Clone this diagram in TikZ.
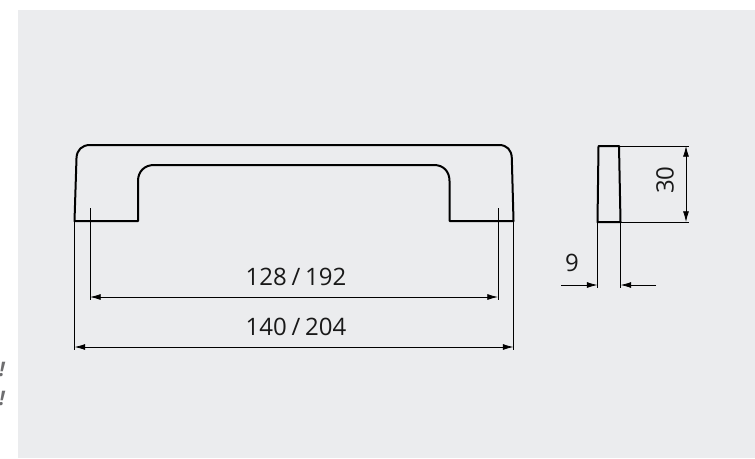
\documentclass[tikz,border=0pt]{standalone}
\usepackage{fontspec}
\setmainfont{Open Sans}
\usetikzlibrary{arrows.meta}
\definecolor{panel}{RGB}{235,236,238}
\definecolor{exgrey}{RGB}{110,110,112}
\tikzset{
  x=0.75pt,y=-0.75pt,
  outline/.style={draw=black,line width=1.5pt,line join=round},
  dimline/.style={draw=black,line width=0.6pt},
  dimarrow/.style={draw=black,line width=0.6pt,{Latex[length=8pt,width=4.5pt]}-{Latex[length=8pt,width=4.5pt]}},
  leadarrow/.style={draw=black,line width=0.6pt,-{Latex[length=8pt,width=4.5pt]}},
  dimtext/.style={inner sep=0pt,font=\fontsize{18pt}{20pt}\selectfont,text=black!90},
  warn/.style={inner sep=0pt,font=\fontsize{15pt}{16pt}\selectfont\bfseries\itshape,text=exgrey}
}
\begin{document}
\begin{tikzpicture}
\useasboundingbox (0,0) rectangle (755,458);
\fill[white] (0,0) rectangle (755,458);
\fill[panel] (18,10) rectangle (755,458);
\coordinate (la) at (74.5,221);
\coordinate (lb) at (90,208);
\coordinate (ra) at (513.5,221);
\coordinate (rb) at (498,208);
\coordinate (la2) at (74.5,350);
\coordinate (ra2) at (513.5,350);
\coordinate (lb2) at (90,300);
\coordinate (rb2) at (498,300);
% handle
\draw[outline] (74.5,221) -- (76.5,158) .. controls (76.8,150) and (82,145) .. (90,145)
  -- (499,145) .. controls (507,145) and (511.5,150) .. (511.8,158)
  -- (513.5,221) -- (449.5,221) -- (449.5,181) .. controls (449.5,171) and (443,165) .. (434,165)
  -- (154,165) .. controls (145,165) and (138,171) .. (138,181) -- (138,221) -- cycle;
% side view
\draw[outline] (597.5,222) -- (598.5,146) -- (619,146) -- (620.5,222) -- cycle;
% extension lines
\draw[dimline] (la) -- (la2);
\draw[dimline] (ra) -- (ra2);
\draw[dimline] (lb) -- (lb2);
\draw[dimline] (rb) -- (rb2);
\draw[dimline] (619,146) -- (689,146);
\draw[dimline] (620.5,222) -- (689,222);
\draw[dimline] (597.5,222) -- (597.5,288);
\draw[dimline] (620.5,222) -- (620.5,288);
% dimensions
\draw[dimarrow] (lb2 |- 0,297) -- (rb2 |- 0,297);
\draw[dimarrow] (la2 |- 0,347) -- (ra2 |- 0,347);
\draw[dimarrow] (686,146) -- (686,222);
\coordinate (n1) at (561,285);
\coordinate (n2) at (656,285);
\draw[leadarrow] (n1) -- (597.5,285);
\draw[leadarrow] (n2) -- (620.5,285);
\node[dimtext] (t128) at (296,277) {128\hspace{0.2em}/\hspace{0.2em}192};
\node[dimtext] (t140) at (296,327) {140\hspace{0.2em}/\hspace{0.2em}204};
\node[dimtext,rotate=90] (t30) at (665,180) {30};
\node[dimtext] (t9) at (572,263) {9};
\node[warn,anchor=east] (w1) at (5,369) {!};
\node[warn,anchor=east] (w2) at (5,398) {!};
\end{tikzpicture}
\end{document}
